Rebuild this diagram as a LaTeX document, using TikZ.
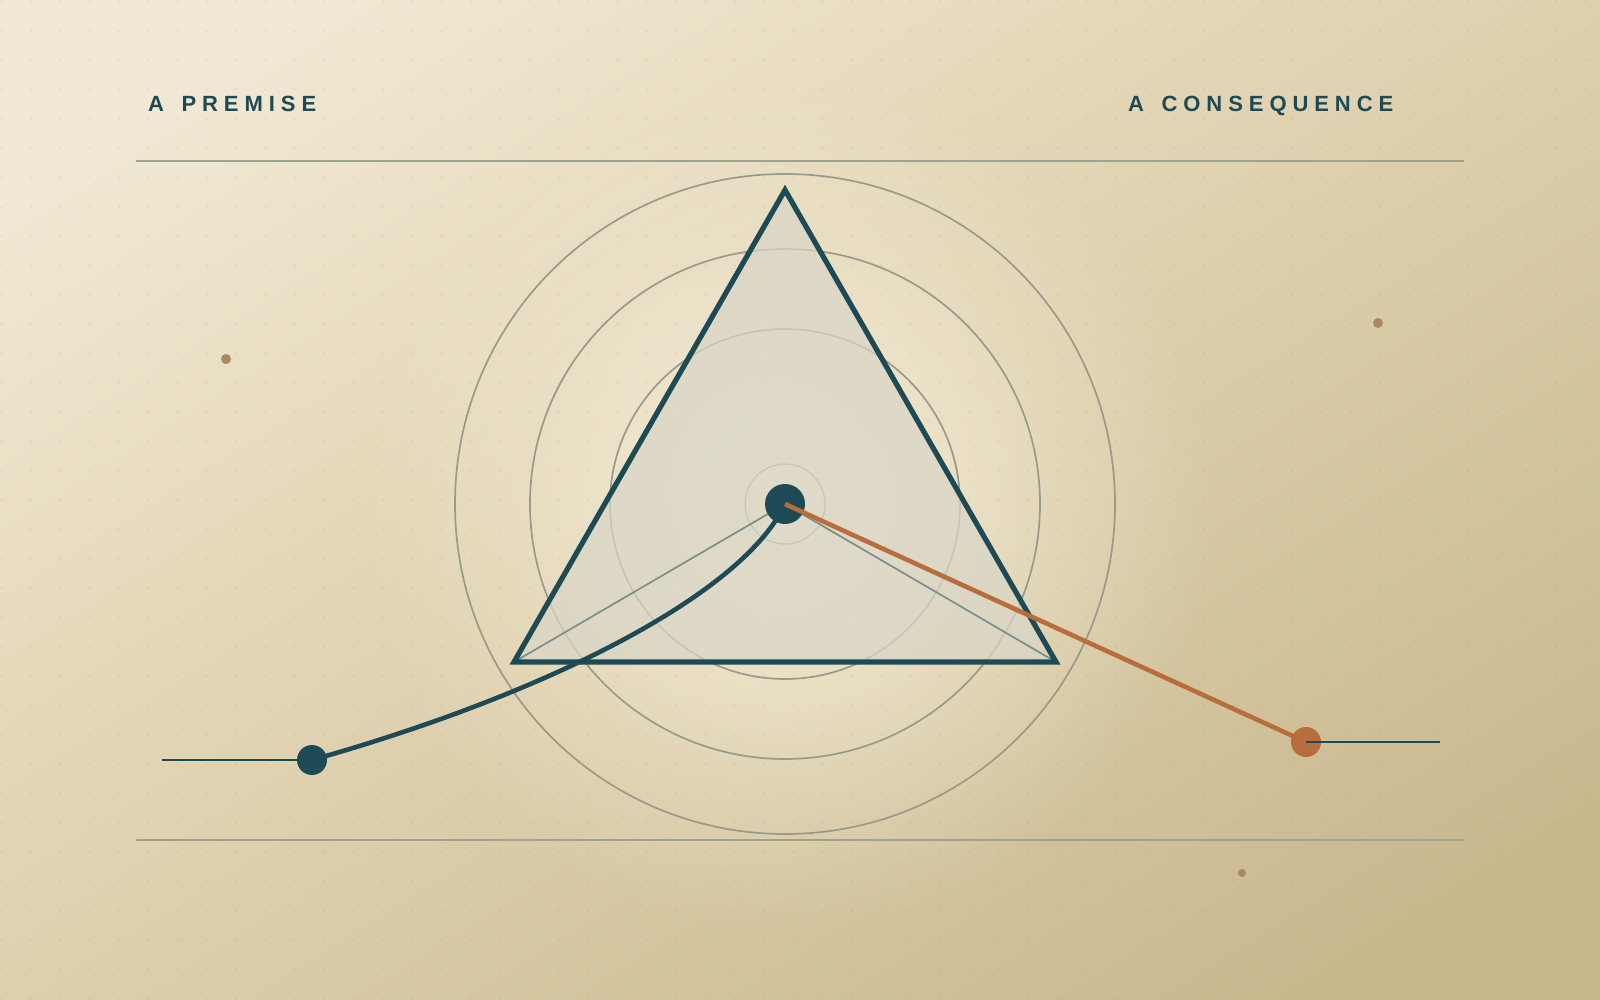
\documentclass[tikz,border=0pt]{standalone}
\usepackage{fontspec}
\usepackage{xcolor}
\usepackage{tikz}
\usetikzlibrary{fadings, positioning}

\newfontfamily\labelfont[LetterSpace=27, WordSpace=1.45]{Liberation Sans}

\definecolor{inkteal}{HTML}{1E4A55}
\definecolor{rust}{HTML}{B86E3C}
\definecolor{ringgray}{HTML}{9A9A8A}
\definecolor{rulegray}{HTML}{A0A290}
\definecolor{spokegray}{HTML}{7A8E8A}
\definecolor{speck}{HTML}{A88A60}
\definecolor{glow}{HTML}{F1E9D2}
\definecolor{trifill}{HTML}{D9D6C6}
\definecolor{paperlight}{HTML}{F1E9D4}
\definecolor{papermid}{HTML}{DED0AD}
\definecolor{paperdark}{HTML}{C7B88E}

\pgfdeclarehorizontalshading{paper}{100bp}{color(0bp)=(paperlight); color(22bp)=(paperlight); color(50bp)=(papermid); color(78bp)=(paperdark); color(100bp)=(paperdark)}
\tikzfading[name=glowfade, inner color=transparent!0, outer color=transparent!100]

\begin{document}
\begin{tikzpicture}[x=1pt, y=-1pt,
    ring/.style={draw=ringgray, line width=1.7pt},
    rule/.style={draw=rulegray, line width=1.8pt},
    hub/.style={circle, fill=inkteal, minimum size=40pt, inner sep=0pt},
    enddot/.style={circle, minimum size=30pt, inner sep=0pt},
    speckdot/.style={fill=speck},
    caption/.style={font={\labelfont\bfseries\fontsize{22}{26}\selectfont}, text=inkteal, inner sep=0pt, anchor=base west}]

        % paper
        \useasboundingbox (0,0) rectangle (1600,1000);
        \shade[shading=paper, shading angle=-58] (0,0) rectangle (1600,1000);
        \fill[glow, path fading=glowfade] (785,504) circle[radius=430pt];
        \fill[glow, opacity=0.7, path fading=glowfade] (785,504) circle[radius=280pt];

        % dot grid
        \foreach \i in {0,...,54}
            \foreach \j in {0,...,34}
                \fill[speck, opacity=0.2] ({1.5+29.33*\i},{1.5+29.33*\j}) circle[radius=1pt];

        % rules and captions
        \draw[rule] (136,161) -- (1464,161);
        \draw[rule] (136,840) -- (1464,840);
        \node[caption] (premise) at (148,112) {A PREMISE};
        \node[caption] (consequence) at (1128,112) {A CONSEQUENCE};

        % rings
        \coordinate (c) at (785,504);
        \draw[ring] (c) circle[radius=330pt];
        \draw[ring] (c) circle[radius=255pt];
        \draw[ring] (c) circle[radius=175pt];
        \draw[ring, line width=1.2pt] (c) circle[radius=40pt];

        % triangle
        \coordinate (apex) at (785,190);
        \coordinate (bl) at (514,662);
        \coordinate (br) at (1056,662);
        \fill[trifill, opacity=0.72] (apex) -- (bl) -- (br) -- cycle;
        \draw[spokegray, line width=1.7pt] (bl) -- (c) -- (br);
        \draw[inkteal, line width=5.2pt, line join=miter] (apex) -- (bl) -- (br) -- cycle;

        % ends
        \coordinate (lend) at (162,760);
        \coordinate (rend) at (1440,742);
        \node[enddot] (p) at (312,760) {};
        \node[enddot] (q) at (1306,742) {};
        \draw[inkteal, line width=2.3pt] (lend) -- (p.center);
        \draw[inkteal, line width=4.6pt] (c) .. controls (745,590) and (560,690) .. (p.center);
        \fill[inkteal] (p) circle[radius=15pt];
        \node[hub] (h) at (c) {};
        \draw[rust, line width=4.6pt] (h.center) -- (q.center);
        \fill[rust] (q) circle[radius=15pt];
        \draw[inkteal, line width=2.3pt] (q.center) -- (rend);

        % specks
        \fill[speckdot] (226,359) circle[radius=5pt];
        \fill[speckdot] (1378,323) circle[radius=5pt];
        \fill[speckdot] (1242,873) circle[radius=4pt];
\end{tikzpicture}
\end{document}
